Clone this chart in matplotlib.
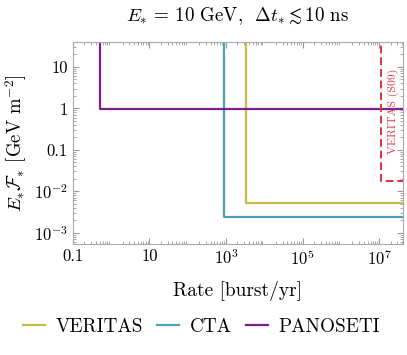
"""Burst detectability: fluence threshold vs rate."""

import matplotlib
matplotlib.use("Agg")
import matplotlib.pyplot as plt
import matplotlib.ticker as mticker

plt.rcParams["font.family"] = "serif"
plt.rcParams["font.serif"] = ["cmr10", "DejaVu Serif"]
plt.rcParams["mathtext.fontset"] = "cm"
plt.rcParams["axes.unicode_minus"] = False
plt.rcParams["axes.formatter.use_mathtext"] = True

# instrument sensitivity: (minimum rate, minimum fluence)
instruments = ["VERITAS", "CTA", "PANOSETI"]
rate_min = [3.3e3, 8.9e2, 0.52]
fluence_min = [5.1e-3, 2.35e-3, 0.96]
colors = ["#c8bc48", "#4b9fbf", "#7a1f8c"]

s09_rate = 1.1e7
s09_fluence = 1.78e-2

xticks = [0.1, 10, 1e3, 1e5, 1e7]
xticklabels = ["0.1", "10", "$10^3$", "$10^5$", "$10^7$"]
yticks = [1e-3, 1e-2, 0.1, 1, 10]
yticklabels = ["$10^{-3}$", "$10^{-2}$", "0.1", "1", "10"]

XMAX, YMAX = 1e10, 1e4

fig = plt.figure(figsize=(4.07, 3.55), dpi=100)
ax = fig.add_axes([0.179, 0.3135, 0.811, 0.5682])

for name, r, f, c in zip(instruments, rate_min, fluence_min, colors):
    ax.plot([r, r, XMAX], [YMAX, f, f], color=c, lw=1.6, label=name)

ax.plot([s09_rate, s09_rate, XMAX], [YMAX, s09_fluence, s09_fluence],
        color="#e0323a", lw=1.4, ls=(0, (4, 2)))
ax.text(2.4e7, 0.85, "VERITAS (S09)", color="#e03a42", rotation=90,
        ha="center", va="center", fontsize=8.5)

ax.set_xscale("log")
ax.set_yscale("log")
ax.set_xlim(0.1, 4.2e7)
ax.set_ylim(5.4e-4, 40)
ax.set_xticks(xticks)
ax.set_xticklabels(xticklabels)
ax.set_yticks(yticks)
ax.set_yticklabels(yticklabels)
ax.xaxis.set_minor_locator(mticker.LogLocator(base=10, subs=range(2, 10), numticks=30))
ax.yaxis.set_minor_locator(mticker.LogLocator(base=10, subs=range(2, 10), numticks=30))
ax.xaxis.set_minor_formatter(mticker.NullFormatter())
ax.yaxis.set_minor_formatter(mticker.NullFormatter())
ax.tick_params(which="both", direction="in", top=True, right=True,
               color="#999999", labelsize=12)
ax.tick_params(which="major", length=4)
ax.tick_params(which="minor", length=2)
for sp in ax.spines.values():
    sp.set_color("#aaaaaa")

ax.set_xlabel("Rate [burst/yr]", fontsize=14, labelpad=9)
ax.set_ylabel(r"$E_{*}\mathcal{F}_{*}$ [GeV m$^{-2}$]", fontsize=13.5, labelpad=4)
ax.set_title(r"$E_{*} \,=\, 10$ GeV,  $\Delta t_{*} \lesssim 10$ ns", fontsize=13.6, pad=15)

fig.legend(loc="lower center", bbox_to_anchor=(0.495, 0.005), ncol=3, frameon=False,
           fontsize=13.8, handlelength=1.15, columnspacing=0.75, handletextpad=0.55)

fig.savefig("out.png", dpi=100)
